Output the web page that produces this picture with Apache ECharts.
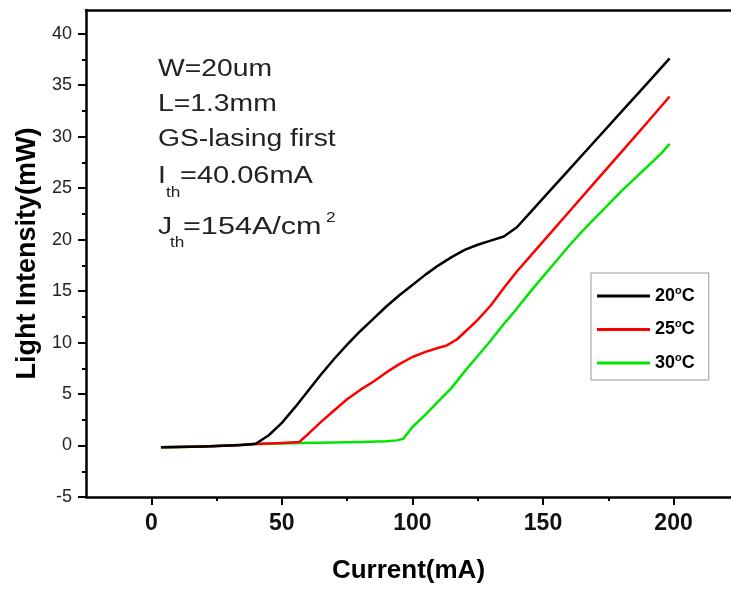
<!DOCTYPE html>
<html>
<head>
<meta charset="utf-8">
<script src="https://cdn.jsdelivr.net/npm/echarts@6/dist/echarts.min.js"></script>
<style>
html,body{margin:0;padding:0;background:#fff;}
#chart{width:731px;height:590px;}
</style>
</head>
<body>
<div id="chart"></div>
<script>
// ---- data ----
const seriesNames = ['20°C', '25°C', '30°C'];

const current20 = [3.7, 10, 20, 30, 35, 40, 45, 50, 55, 60, 65, 70, 75, 80, 85, 90, 95, 100, 105, 110, 115, 120, 125, 130, 135, 140, 145, 150, 160, 170, 180, 190, 198.5];
const power20   = [-0.17, -0.15, -0.1, 0, 0.05, 0.17, 1.0, 2.2, 3.7, 5.3, 6.9, 8.4, 9.8, 11.1, 12.3, 13.5, 14.6, 15.6, 16.6, 17.5, 18.3, 19.0, 19.5, 19.9, 20.3, 21.2, 22.6, 24.0, 26.8, 29.6, 32.4, 35.2, 37.6];

const current25 = [3.7, 10, 20, 30, 40, 45, 50, 56.7, 60, 65, 70, 75, 80, 85, 90, 95, 100, 105, 110, 113, 117, 120, 125, 130, 135, 140, 150, 160, 170, 180, 190, 198.5];
const power25   = [-0.17, -0.15, -0.1, 0, 0.15, 0.2, 0.25, 0.35, 1.1, 2.3, 3.4, 4.5, 5.4, 6.2, 7.1, 7.9, 8.6, 9.1, 9.5, 9.7, 10.3, 11.0, 12.2, 13.6, 15.3, 16.9, 19.8, 22.7, 25.6, 28.5, 31.4, 33.9];

const current30 = [3.7, 20, 30, 40, 50, 57, 70, 80, 90, 94, 96.5, 100, 105, 110, 115, 120, 125, 130, 135, 140, 145, 150, 155, 160, 165, 170, 175, 180, 185, 190, 195, 198.5];
const power30   = [-0.17, -0.1, 0, 0.15, 0.2, 0.25, 0.3, 0.35, 0.42, 0.5, 0.65, 1.8, 3.0, 4.3, 5.6, 7.2, 8.7, 10.2, 11.8, 13.3, 14.9, 16.4, 17.9, 19.4, 20.8, 22.1, 23.4, 24.7, 25.9, 27.1, 28.3, 29.3];

const xMajorTicks = [0, 50, 100, 150, 200];
const xMinorTicks = [25, 75, 125, 175];
const yMajorTicks = [-5, 0, 5, 10, 15, 20, 25, 30, 35, 40];
const yMinorTicks = [-2.5, 2.5, 7.5, 12.5, 17.5, 22.5, 27.5, 32.5, 37.5];

const annotationLines = ['W=20um', 'L=1.3mm', 'GS-lasing first'];

// ---- chart ----
const FONT = 'Liberation Sans, Arial, Helvetica, sans-serif';
const zip = (a, b) => a.map((v, i) => [v, b[i]]);

const chart = echarts.init(document.getElementById('chart'), null, {renderer: 'canvas'});

const axisLineStyle = {color: '#000', width: 2.5};
const X_MIN = -25, X_MAX = 222, Y_MIN = -5, Y_MAX = 42.3;

const option = {
  backgroundColor: '#fff',
  animation: false,
  grid: {left: 86, top: 10, right: 0, bottom: 93},
  legend: {
    orient: 'vertical',
    left: 591, top: 273,
    data: seriesNames,
    icon: 'rect',
    itemWidth: 53, itemHeight: 3,
    itemGap: 13.5,
    itemTextGap: 5,
    padding: [12, 14, 8, 6],
    borderColor: '#999', borderWidth: 1,
    formatter: name => '{t|' + name.replace('°C', '') + '}{s|o}{t|C}',
    textStyle: {
      fontFamily: FONT,
      rich: {
        t: {fontSize: 18, fontWeight: 'bold', color: '#000', lineHeight: 22, fontFamily: FONT},
        s: {fontSize: 11, fontWeight: 'bold', color: '#000', lineHeight: 10, verticalAlign: 'top', fontFamily: FONT}
      }
    }
  },
  xAxis: [
    {
      type: 'value', min: X_MIN, max: X_MAX, interval: 25, position: 'bottom',
      name: 'Current(mA)', nameLocation: 'middle', nameGap: 61,
      nameTextStyle: {fontFamily: FONT, fontSize: 26, fontWeight: 'bold', color: '#000'},
      axisLine: {show: true, onZero: false, lineStyle: axisLineStyle},
      axisTick: {show: true, length: 8, lineStyle: {color: '#000', width: 2}, customValues: xMajorTicks},
      axisLabel: {show: true, margin: 15, fontFamily: FONT, fontSize: 23, fontWeight: 'bold', color: '#111', customValues: xMajorTicks},
      splitLine: {show: false}
    },
    {
      type: 'value', min: X_MIN, max: X_MAX, interval: 25, position: 'bottom',
      axisLine: {show: false, onZero: false},
      axisTick: {show: true, length: 4, lineStyle: {color: '#000', width: 2}, customValues: xMinorTicks},
      axisLabel: {show: false},
      splitLine: {show: false}
    },
    {
      type: 'value', min: X_MIN, max: X_MAX, interval: 25, position: 'top',
      axisLine: {show: true, onZero: false, lineStyle: axisLineStyle},
      axisTick: {show: false}, axisLabel: {show: false}, splitLine: {show: false}
    }
  ],
  yAxis: [
    {
      type: 'value', min: Y_MIN, max: Y_MAX, interval: 5, position: 'left',
      name: 'Light Intensity(mW)', nameLocation: 'middle', nameGap: 42,
      nameTextStyle: {fontFamily: FONT, fontSize: 27, fontWeight: 'bold', color: '#000'},
      axisLine: {show: true, onZero: false, lineStyle: axisLineStyle},
      axisTick: {show: true, length: 8, lineStyle: {color: '#000', width: 2}, customValues: yMajorTicks},
      axisLabel: {show: true, margin: 14, fontFamily: FONT, fontSize: 18, color: '#222', customValues: yMajorTicks},
      splitLine: {show: false}
    },
    {
      type: 'value', min: Y_MIN, max: Y_MAX, interval: 2.5, position: 'left',
      axisLine: {show: false, onZero: false},
      axisTick: {show: true, length: 4, lineStyle: {color: '#000', width: 2}, customValues: yMinorTicks},
      axisLabel: {show: false},
      splitLine: {show: false}
    }
  ],
  series: [
    {
      name: seriesNames[2], type: 'line', xAxisIndex: 0, yAxisIndex: 0,
      data: zip(current30, power30), showSymbol: false, symbol: 'none',
      lineStyle: {color: '#00e600', width: 2.5, join: 'round'}, itemStyle: {color: '#00e600'}
    },
    {
      name: seriesNames[1], type: 'line', xAxisIndex: 0, yAxisIndex: 0,
      data: zip(current25, power25), showSymbol: false, symbol: 'none',
      lineStyle: {color: '#ff0000', width: 2.5, join: 'round'}, itemStyle: {color: '#ff0000'}
    },
    {
      name: seriesNames[0], type: 'line', xAxisIndex: 0, yAxisIndex: 0,
      data: zip(current20, power20), showSymbol: false, symbol: 'none',
      lineStyle: {color: '#000000', width: 2.5, join: 'round'}, itemStyle: {color: '#000000'}
    }
  ]
};

// annotation text (real text, scaled horizontally like the reference)
const txt = (text, x, y, size, sx) => ({
  type: 'text', x: x, y: y, scaleX: sx || 1.23, z: 100,
  style: {text: text, fontFamily: FONT, fontSize: size, fill: '#222', align: 'left', verticalAlign: 'middle'}
});
const lineYs = [70, 105, 140];
option.graphic = annotationLines.map((t, i) => txt(t, 158, lineYs[i], 23)).concat([
  txt('I', 158, 177, 23),
  txt('th', 166, 193, 14),
  txt('=40.06mA', 180, 177, 23, 1.26),
  txt('J', 158, 228, 23),
  txt('th', 170, 243, 14),
  txt('=154A/cm', 183, 228, 23, 1.33),
  txt('2', 326, 218, 14)
]);

chart.setOption(option);
</script>
</body>
</html>
